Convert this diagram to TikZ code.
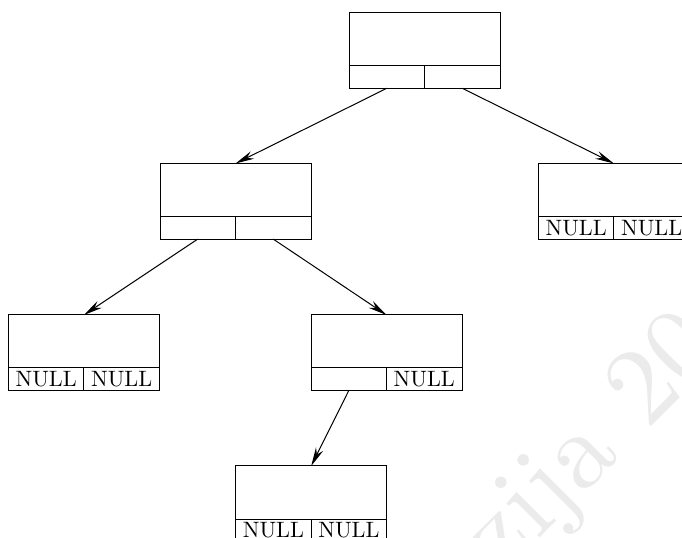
\documentclass[tikz,border=0pt]{standalone}
\usetikzlibrary{arrows.meta}
\tikzset{
  upperbox/.style={draw, line width=0.45pt, minimum width=67.95pt, minimum height=23.85pt, inner sep=0pt, outer sep=0pt, anchor=north west},
  cellbox/.style={draw, line width=0.45pt, minimum width=33.975pt, minimum height=10.17pt, inner sep=0pt, outer sep=0pt, anchor=north west, font=\fontsize{10}{10}\selectfont},
  link/.style={line width=0.45pt, -{Stealth[length=8.5pt, width=3.6pt, inset=2.8pt]}},
  wmark/.style={rotate=45, scale=4.95, anchor=base west, inner sep=0pt, text=black!8, font=\fontsize{10}{10}\selectfont}
}
\newcommand\tnode[5]{%
  \node[upperbox] (#1) at (#2,#3) {};
  \node[cellbox] (#1-l) at (#1.south west) {#4};
  \node[cellbox] (#1-r) at (#1.south) {#5};
}
\begin{document}
\begin{tikzpicture}[x=0.45pt, y=-0.45pt]
\useasboundingbox (0,0) rectangle (682,538);
\node[wmark] (wm) at (501,577) {zija 20};
\tnode{R}{349}{12.7}{}{}
\tnode{A}{160}{163.5}{}{}
\tnode{B}{538.4}{163.5}{NULL}{NULL}
\tnode{C}{8.4}{315}{NULL}{NULL}
\tnode{D}{311}{315}{}{NULL}
\tnode{E}{235.7}{466}{NULL}{NULL}
\draw[link] (R-l.south) -- (A.north);
\draw[link] (R-r.south) -- (B.north);
\draw[link] (A-l.south) -- (C.north);
\draw[link] (A-r.south) -- (D.north);
\draw[link] (D-l.south) -- (E.north);
\end{tikzpicture}
\end{document}
